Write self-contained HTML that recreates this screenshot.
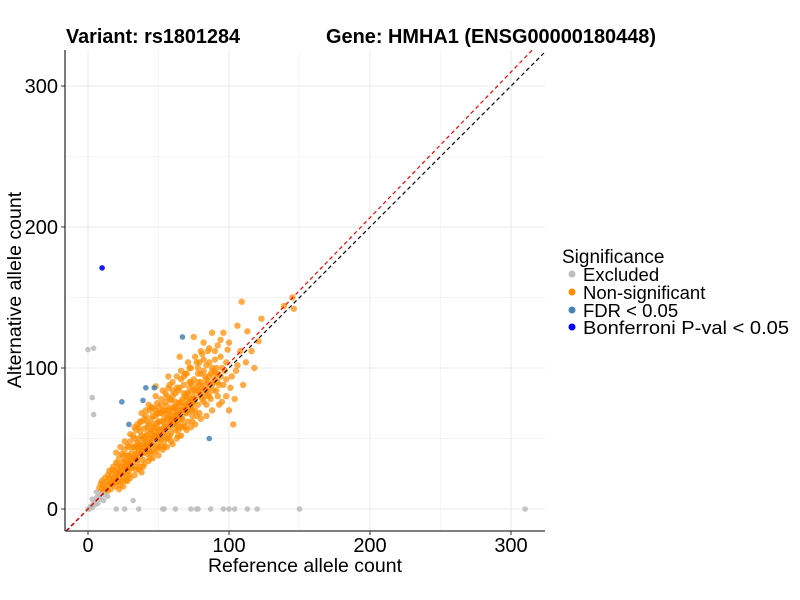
<!DOCTYPE html>
<html><head><meta charset="utf-8"><style>
body{margin:0;background:#fff;}
svg{display:block;font-family:"Liberation Sans",Arial,sans-serif;}
</style></head><body>
<svg id="chart" width="800" height="600">
</svg>
<script>
const xTicks=[0,100,200,300];
const yTicks=[0,100,200,300];
const minorTicks=[50,150,250];
const excluded=[[0,113],[4,114],[3,79],[4,67],[20,0],[26,0],[36,0],[53,0],[54,0],[62,0],[73,0],[77,0],[78,0],[87,0],[96,0],[100,0],[104,0],[113,0],[120,0],[150,0],[310,0],[2,2],[4,5],[6,8],[8,10],[10,12],[3,7],[5,3],[1,0],[32,6],[7,4],[9,7],[12,10],[6,12],[0,0],[3,1],[11,6],[14,9]];
const orange=[[8,15],[9,18],[10,14],[10,20],[11,17],[12,22],[12,15],[13,19],[14,24],[14,13],[15,18],[15,27],[16,21],[16,14],
[17,25],[17,18],[18,22],[18,30],[19,16],[19,27],[20,24],[20,33],[21,19],[21,28],[22,36],[22,23],[23,30],[23,17],[24,26],[24,39],[25,33],[25,21],
[26,29],[26,42],[27,35],[27,24],[28,31],[28,45],[29,38],[29,27],[30,34],[30,48],[31,40],[31,29],[32,36],[32,52],[33,44],[33,30],[34,39],[34,56],[35,47],[35,33],[35,60],
[36,42],[36,50],[37,38],[37,55],[38,45],[38,62],[39,35],[39,50],[40,57],[40,43],[41,66],[41,48],[42,39],[42,53],[43,60],[43,45],[44,70],[44,50],[45,41],[45,56],[45,64],
[46,47],[46,72],[47,58],[47,52],[48,44],[48,66],[49,61],[49,75],[50,48],[50,56],[51,68],[51,62],[52,45],[52,78],[53,57],[53,70],[54,52],[54,64],[55,82],[55,60],
[56,50],[56,73],[57,66],[57,86],[58,58],[58,70],[59,77],[59,54],[60,64],[60,90],[61,72],[61,60],[62,82],[62,56],[63,68],[63,94],[64,75],[64,62],[65,86],[65,58],
[66,70],[66,98],[67,78],[67,64],[68,88],[68,60],[69,74],[69,96],[70,82],[70,68],[71,104],[71,62],[72,78],[72,90],[73,72],[73,100],[74,84],[74,66],[75,92],[75,76],
[76,108],[76,70],[77,86],[78,96],[78,74],[79,104],[80,80],[80,90],[81,110],[82,76],[82,98],[83,88],[84,102],[85,82],[85,112],[86,94],[87,78],[88,100],[89,90],[90,106],[91,84],[92,96],[93,74],[95,100],[96,88],[98,80],[100,70],[103,60],
[100,118],[109,147],[106,130],[113,126],[118,100],[121,119],[139,144],[145,150],[146,142],[123,135],[116,112],[99,113],[105,98],[110,88],[82,118],[75,122],[88,125],[96,125],[94,120],[57,94],[48,87],[65,108],
[20,20],[30,30],[40,40],[50,50],[60,60],[70,70],[25,25],[35,35],[45,45],[55,55],[65,65],[75,80],[38,40],[42,46],[48,52],[52,50],[58,62],[62,66],[28,28],[33,36],[43,42],[53,54],[63,60],[68,72],[73,76],[78,84],[83,80],[18,18],[22,26],[13,14],[47,40],[57,50],[67,58],[77,66],[37,30],[27,20],[32,44],[42,58],[52,68],[62,76],[72,86],
[15,22],[19,20],[24,30],[29,33],[34,44],[39,42],[44,55],[49,52],[54,58],[59,66],[64,70],[69,80],[74,78],[79,88],[84,92],[89,98],[36,46],[41,52],[46,60],[51,56],[56,64],[61,68],[66,76],[71,74],[76,84],[81,86],[86,86],[31,36],[26,34],[21,25],[16,18],[40,50],[50,62],[60,72],[70,78],[80,96],[55,68],[45,50],[35,40],[65,74],[58,78],[48,70],[38,52],[68,82],[44,40],[54,48],[64,56],[74,70],[84,74],[90,92],
[20,40],[23,44],[26,48],[28,38],[30,53],[33,50],[36,58],[38,68],[40,64],[43,74],[46,66],[48,80],[50,72],[53,84],[55,76],[58,88],[60,80],[63,86],[66,92],[70,96],[73,90],[78,100],[82,106],[86,104],[90,112],[94,108],
[22,14],[25,16],[28,20],[30,22],[33,24],[36,28],[38,26],[40,32],[43,34],[46,36],[50,38],[53,42],[56,44],[60,46],[63,50],[66,52],[70,56],[73,58],[76,60],[80,64],[84,66],[88,70],[92,80],[95,76],[98,92],[101,86],[104,78],
[27,30],[31,33],[34,36],[37,44],[39,46],[41,44],[44,47],[47,55],[49,58],[51,52],[53,62],[56,58],[57,70],[59,62],[61,64],[62,72],[64,66],[67,70],[69,68],[71,82],[72,70],[74,74],[76,78],[79,82],[81,78],[83,94],[85,90],[87,96],[89,84],[91,100],[93,88],
[24,20],[29,24],[34,28],[39,30],[44,36],[49,42],[54,44],[59,48],[64,52],[69,58],[74,62],[79,68],[84,84],[88,88],[92,90],[97,98],[102,94],[106,102],[108,112],[112,104],
[17,28],[21,32],[25,38],[29,44],[33,58],[37,62],[41,70],[45,72],[49,68],[52,74],[56,80],[60,84],[64,84],[68,94],[72,100],[77,104],[80,112],[86,114],[92,116],
[42,62],[46,52],[50,44],[54,70],[58,52],[62,62],[66,64],[70,74],[74,88],[78,90],[82,84],[86,80],[90,96],[94,94],[98,104]];
const fdr=[[67,122],[41,86],[47,86],[39,77],[24,76],[29,60],[86,50]];
const bonf=[[10,171]];

const svg=document.getElementById('chart');
const NS='http://www.w3.org/2000/svg';
const X0=65,X1=545,Y0=50,Y1=531;
function sx(v){return 88+v*1.41;}
function sy(v){return 509-v*1.41;}
function mk(tag,attrs,parent){const e=document.createElementNS(NS,tag);for(const k in attrs)e.setAttribute(k,attrs[k]);(parent||svg).appendChild(e);return e;}

const grid=mk('g',{});


minorTicks.forEach(v=>{
 mk('line',{x1:sx(v),x2:sx(v),y1:Y0,y2:Y1,stroke:'#f2f2f2','stroke-width':0.7},grid);
 mk('line',{x1:X0,x2:X1,y1:sy(v),y2:sy(v),stroke:'#f2f2f2','stroke-width':0.7},grid);
});
xTicks.forEach(v=>{mk('line',{x1:sx(v),x2:sx(v),y1:Y0,y2:Y1,stroke:'#e8e8e8','stroke-width':1},grid);});
yTicks.forEach(v=>{mk('line',{x1:X0,x2:X1,y1:sy(v),y2:sy(v),stroke:'#e8e8e8','stroke-width':1},grid);});

function pts(arr,color,op,name,rad){
 const g=mk('g',{});
 
 
 arr.forEach(p=>{
  const c=mk('circle',{cx:sx(p[0]),cy:sy(p[1]),r:rad,fill:color,'fill-opacity':op},g);
  
  
 });
}
pts(excluded,'#bebebe',0.9,'excluded-points',2.8);
pts(orange,'#ff8c00',0.72,'non-significant-points',3.2);
pts(fdr,'#4682b4',0.85,'fdr-points',2.8);
pts(bonf,'#0000ff',0.9,'bonferroni-points',2.8);

function lineFor(slope,color,name){
 const vx0=(X0-88)/1.41, vx1=(X1-88)/1.41;
 let ax=vx0,ay=slope*vx0,bx=vx1,by=slope*vx1;
 const ymax=(509-Y0)/1.41;
 if(by>ymax){by=ymax;bx=ymax/slope;}
 const ymin=(509-Y1)/1.41;
 if(ay<ymin){ay=ymin;ax=ymin/slope;}
 const l=mk('line',{x1:sx(ax),y1:sy(ay),x2:sx(bx),y2:sy(by),stroke:color,'stroke-width':1.2,'stroke-dasharray':'4,3'});
 
 
}
lineFor(1,'#000','identity-line');
lineFor(1.033,'#ff0000','fit-line');

const ax=mk('g',{});


mk('line',{x1:X0,x2:X0,y1:Y0,y2:Y1,stroke:'#333','stroke-width':1.3},ax);
mk('line',{x1:X0,x2:X1,y1:Y1,y2:Y1,stroke:'#333','stroke-width':1.3},ax);
xTicks.forEach(v=>{
 mk('line',{x1:sx(v),x2:sx(v),y1:Y1,y2:Y1+4,stroke:'#333'},ax);
 const t=mk('text',{x:sx(v),y:Y1+21,'text-anchor':'middle','font-size':20,fill:'#000'},ax);t.textContent=v;
 
});
yTicks.forEach(v=>{
 mk('line',{x1:X0-4,x2:X0,y1:sy(v),y2:sy(v),stroke:'#333'},ax);
 const t=mk('text',{x:X0-7,y:sy(v)+7,'text-anchor':'end','font-size':20,fill:'#000'},ax);t.textContent=v;
 
});

svg.insertAdjacentHTML('beforeend',`
<text x="305" y="572" text-anchor="middle" font-size="19.5">Reference allele count</text>
<text transform="translate(21,290) rotate(-90)" text-anchor="middle" font-size="19.5">Alternative allele count</text>
<text x="66" y="43" font-size="20" font-weight="bold" textLength="174" lengthAdjust="spacingAndGlyphs">Variant: rs1801284</text>
<text x="326" y="43" font-size="20" font-weight="bold" textLength="330" lengthAdjust="spacingAndGlyphs">Gene: HMHA1 (ENSG00000180448)</text>
<g>
<text x="562" y="263" font-size="19">Significance</text>
<g><circle cx="572" cy="274" r="3.5" fill="#bebebe"/><text x="583" y="281" font-size="18.5">Excluded</text></g>
<g><circle cx="572" cy="292" r="3.5" fill="#ff8c00"/><text x="583" y="299" font-size="18.5">Non-significant</text></g>
<g><circle cx="572" cy="310" r="3.5" fill="#4682b4"/><text x="583" y="317" font-size="18.5">FDR &lt; 0.05</text></g>
<g><circle cx="572" cy="327" r="3.5" fill="#0000ff"/><text x="583" y="334" font-size="18.5" textLength="206" lengthAdjust="spacingAndGlyphs">Bonferroni P-val &lt; 0.05</text></g>
</g>`);
</script>
</body></html>
